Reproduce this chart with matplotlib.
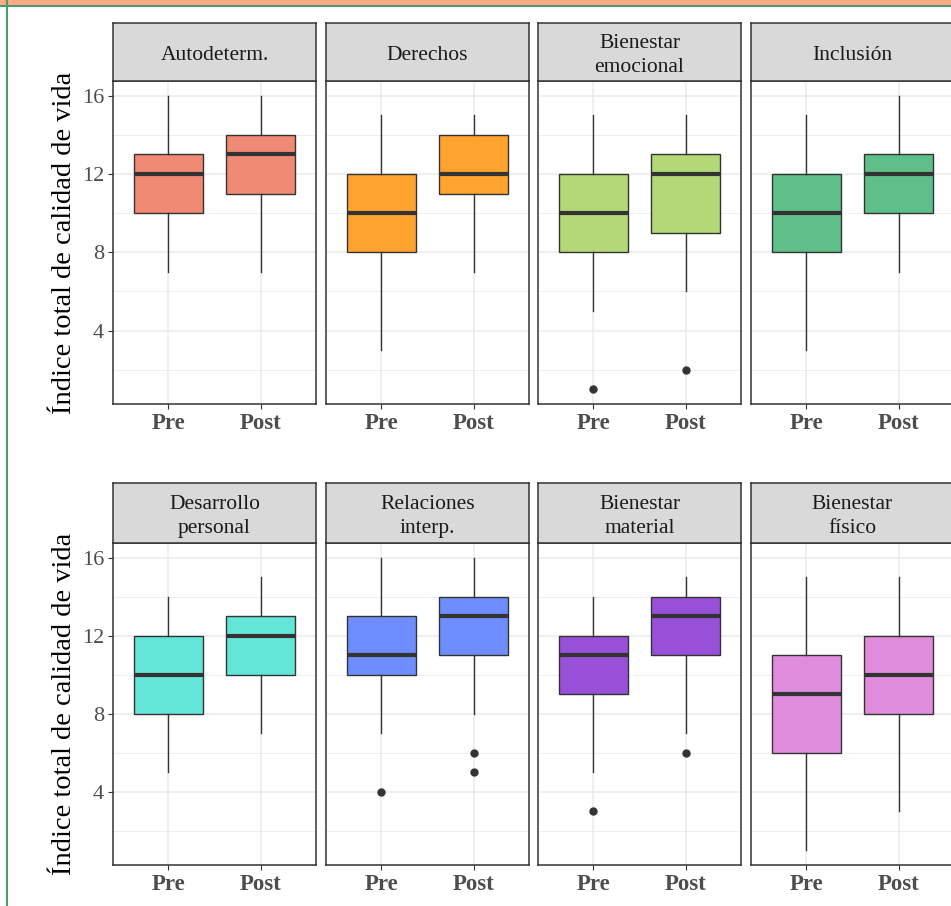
import matplotlib
matplotlib.use('Agg')
import matplotlib.pyplot as plt
from matplotlib.patches import Rectangle
from matplotlib.lines import Line2D

plt.rcParams['font.family'] = ['Liberation Serif', 'DejaVu Serif']

# Datos: (bigote inf, Q1, mediana, Q3, bigote sup)
dimensiones = ['Autodeterm.', 'Derechos', 'Bienestar\nemocional', 'Inclusión',
               'Desarrollo\npersonal', 'Relaciones\ninterp.', 'Bienestar\nmaterial', 'Bienestar\nfísico']
grupos = ['Pre', 'Post']
pre_stats = [(7, 10, 12, 13, 16), (3, 8, 10, 12, 15), (5, 8, 10, 12, 15), (3, 8, 10, 12, 15),
             (5, 8, 10, 12, 14), (7, 10, 11, 13, 16), (5, 9, 11, 12, 14), (1, 6, 9, 11, 15)]
post_stats = [(7, 11, 13, 14, 16), (7, 11, 12, 14, 15), (6, 9, 12, 13, 15), (7, 10, 12, 13, 16),
              (7, 10, 12, 13, 15), (8, 11, 13, 14, 16), (7, 11, 13, 14, 15), (3, 8, 10, 12, 15)]
pre_outliers = [[], [], [1], [], [], [4], [3], []]
post_outliers = [[], [], [2], [], [], [5, 6], [6], []]
colores = ['#F08A75', '#FFA32E', '#B2D878', '#5EC088', '#63E6D8', '#6E8EFF', '#9850D8', '#E08CDC']

W, H = 951, 906
fig = plt.figure(figsize=(W / 100, H / 100), dpi=100)

# marco de la captura
fig.patches.append(Rectangle((0, 1 - 5 / H), 1, 5 / H, transform=fig.transFigure,
                             facecolor='#FFAA85', edgecolor='none'))
fig.lines.append(Line2D([0, 1], [1 - 5.5 / H] * 2, transform=fig.transFigure, color='#4E9A6E', lw=1.5))
fig.lines.append(Line2D([6.5 / W] * 2, [0, 1], transform=fig.transFigure, color='#4E9A6E', lw=1.5))

lefts = [113, 326, 538, 751]
pw = 203
filas = [(81, 404, 23), (543, 865, 483)]  # top panel, bottom panel, top strip

def stat(s, fl, lab):
    return dict(whislo=s[0], q1=s[1], med=s[2], q3=s[3], whishi=s[4], fliers=fl, label=lab)

for i, dim in enumerate(dimensiones):
    r, c = divmod(i, 4)
    ptop, pbot, stop = filas[r]
    x0 = lefts[c]
    ax = fig.add_axes([x0 / W, 1 - pbot / H, pw / W, (pbot - ptop) / H])
    stats = [stat(pre_stats[i], pre_outliers[i], 'Pre'), stat(post_stats[i], post_outliers[i], 'Post')]
    bp = ax.bxp(stats, positions=[1, 2], widths=0.75, patch_artist=True, showcaps=False,
                boxprops=dict(facecolor=colores[i], edgecolor='#333333', lw=1),
                medianprops=dict(color='#333333', lw=3, solid_capstyle='butt'),
                whiskerprops=dict(color='#333333', lw=1),
                flierprops=dict(marker='o', markerfacecolor='#333333', markeredgecolor='#333333',
                                markersize=5))
    ax.set_xlim(0.4, 2.6)
    ax.set_ylim(0.25, 16.75)
    ax.set_yticks([4, 8, 12, 16])
    ax.set_yticks([2, 6, 10, 14], minor=True)
    ax.set_xticks([1, 2])
    ax.set_xticklabels(grupos, fontweight='bold', fontsize=16.5, color='#4D4D4D')
    ax.grid(which='major', color='#EBEBEB', lw=1.1)
    ax.grid(which='minor', axis='y', color='#EBEBEB', lw=0.6)
    ax.set_axisbelow(True)
    ax.tick_params(axis='both', which='major', length=3.5, color='#333333', pad=3)
    ax.tick_params(axis='y', which='minor', length=0)
    ax.tick_params(axis='y', labelsize=16, labelcolor='#4D4D4D')
    if c != 0:
        ax.tick_params(axis='y', which='major', length=0, labelleft=False)
    for s in ax.spines.values():
        s.set_color('#333333')
        s.set_linewidth(1.1)
    # strip
    sax = fig.add_axes([x0 / W, 1 - ptop / H, pw / W, (ptop - stop) / H])
    sax.set_facecolor('#D9D9D9')
    sax.set_xticks([])
    sax.set_yticks([])
    for s in sax.spines.values():
        s.set_color('#333333')
        s.set_linewidth(1.1)
    sax.text(0.5, 0.44, dim, ha='center', va='center', fontsize=15.5, color='#1A1A1A',
             linespacing=1.3, transform=sax.transAxes)

for ptop, pbot, stop in filas:
    fig.text(65 / W, 1 - (ptop + pbot) / 2 / H, 'Índice total de calidad de vida',
             rotation=90, ha='center', va='center', fontsize=20.5, color='black')

fig.savefig('out.png', dpi=100)
